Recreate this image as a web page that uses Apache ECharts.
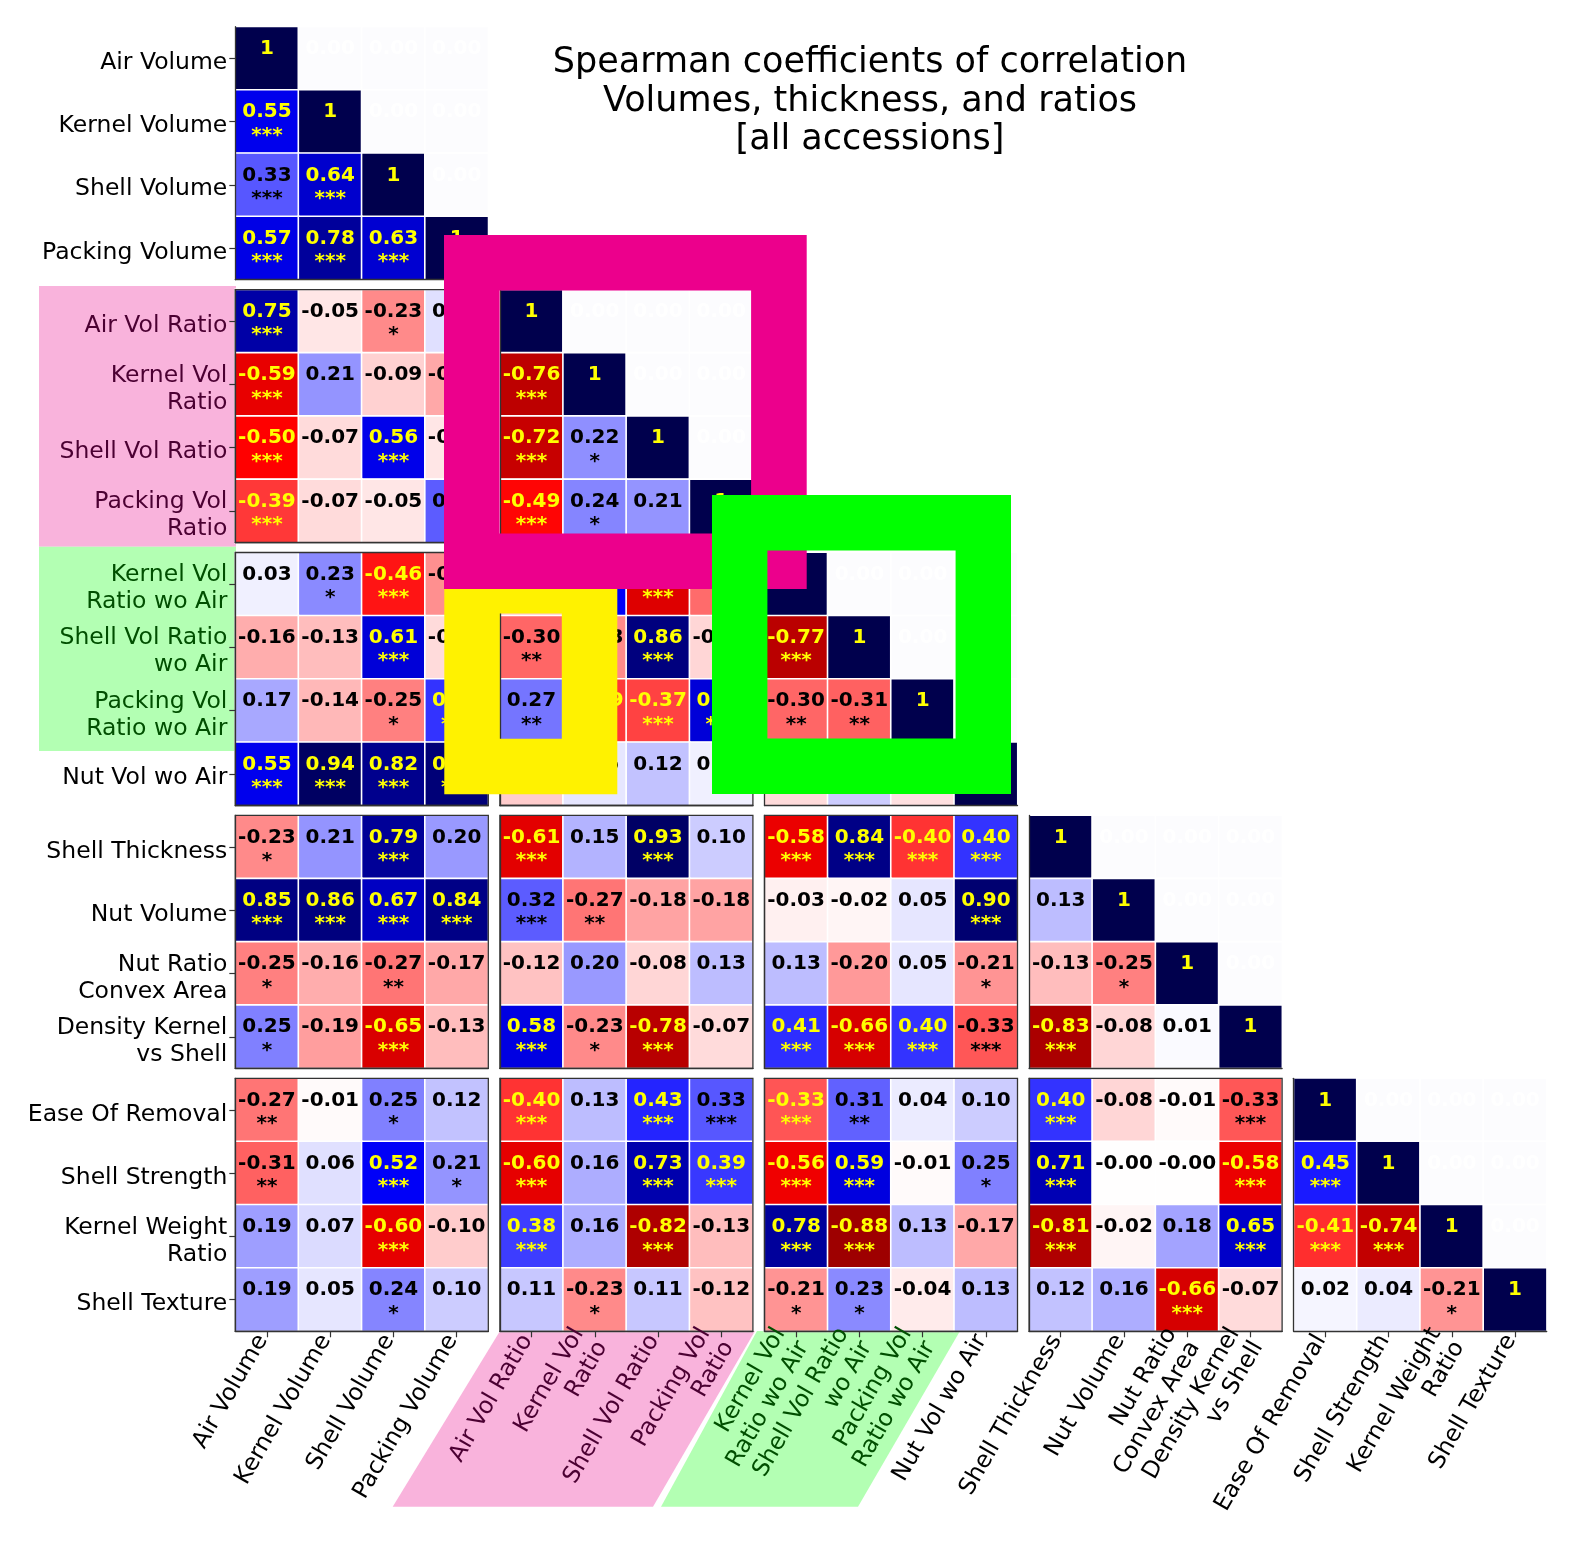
<!DOCTYPE html>
<html>
<head>
<meta charset="utf-8">
<script src="https://cdn.jsdelivr.net/npm/echarts/dist/echarts.min.js"></script>
<style>html,body{margin:0;padding:0;background:#fff}#chart{width:1574px;height:1546px}</style>
</head>
<body>
<div id="chart"></div>
<script>
// ---------------- DATA ----------------
const variables = ['Air Volume','Kernel Volume','Shell Volume','Packing Volume',
  'Air Vol Ratio','Kernel Vol Ratio','Shell Vol Ratio','Packing Vol Ratio',
  'Kernel Vol Ratio wo Air','Shell Vol Ratio wo Air','Packing Vol Ratio wo Air','Nut Vol wo Air',
  'Shell Thickness','Nut Volume','Nut Ratio Convex Area','Density Kernel vs Shell',
  'Ease Of Removal','Shell Strength','Kernel Weight Ratio','Shell Texture'];
const tickLabels = ['Air Volume','Kernel Volume','Shell Volume','Packing Volume',
  'Air Vol Ratio','Kernel Vol\nRatio','Shell Vol Ratio','Packing Vol\nRatio',
  'Kernel Vol\nRatio wo Air','Shell Vol Ratio\nwo Air','Packing Vol\nRatio wo Air','Nut Vol wo Air',
  'Shell Thickness','Nut Volume','Nut Ratio\nConvex Area','Density Kernel\nvs Shell',
  'Ease Of Removal','Shell Strength','Kernel Weight\nRatio','Shell Texture'];
// label tint group: k = plain, p = ratio group (pink), g = ratio wo air group (green)
const labelTint = ['k','k','k','k','p','p','p','p','g','g','g','k','k','k','k','k','k','k','k','k'];
const blockSize = 4;

// lower triangle of Spearman coefficients, row i holds columns 0..i-1
const corrRows = [
  [],
  [0.55],
  [0.33, 0.64],
  [0.57, 0.78, 0.63],
  [0.75, -0.05, -0.23, 0.06],
  [-0.59, 0.21, -0.09, -0.17, -0.76],
  [-0.50, -0.07, 0.56, -0.05, -0.72, 0.22],
  [-0.39, -0.07, -0.05, 0.32, -0.49, 0.24, 0.21],
  [0.03, 0.23, -0.46, -0.22, -0.10, 0.52, -0.63, -0.29],
  [-0.16, -0.13, 0.61, -0.07, -0.30, -0.23, 0.86, -0.08, -0.77],
  [0.17, -0.14, -0.25, 0.40, 0.27, -0.39, -0.37, 0.61, -0.30, -0.31],
  [0.55, 0.94, 0.82, 0.88, -0.10, 0.05, 0.12, 0.03, -0.07, 0.10, -0.06],
  [-0.23, 0.21, 0.79, 0.20, -0.61, 0.15, 0.93, 0.10, -0.58, 0.84, -0.40, 0.40],
  [0.85, 0.86, 0.67, 0.84, 0.32, -0.27, -0.18, -0.18, -0.03, -0.02, 0.05, 0.90, 0.13],
  [-0.25, -0.16, -0.27, -0.17, -0.12, 0.20, -0.08, 0.13, 0.13, -0.20, 0.05, -0.21, -0.13, -0.25],
  [0.25, -0.19, -0.65, -0.13, 0.58, -0.23, -0.78, -0.07, 0.41, -0.66, 0.40, -0.33, -0.83, -0.08, 0.01],
  [-0.27, -0.01, 0.25, 0.12, -0.40, 0.13, 0.43, 0.33, -0.334, 0.31, 0.04, 0.10, 0.40, -0.08, -0.01, -0.33],
  [-0.31, 0.06, 0.52, 0.21, -0.60, 0.16, 0.73, 0.39, -0.56, 0.59, -0.01, 0.25, 0.71, -0.001, -0.001, -0.58, 0.45],
  [0.19, 0.07, -0.60, -0.10, 0.38, 0.16, -0.82, -0.13, 0.78, -0.88, 0.13, -0.17, -0.81, -0.02, 0.18, 0.65, -0.41, -0.74],
  [0.19, 0.05, 0.24, 0.10, 0.11, -0.23, 0.11, -0.12, -0.21, 0.23, -0.04, 0.13, 0.12, 0.16, -0.66, -0.07, 0.02, 0.04, -0.21]
];
// significance stars (number of *)
const starRows = [
  [],
  [3],
  [3, 3],
  [3, 3, 3],
  [3, 0, 1, 0],
  [3, 0, 0, 0, 3],
  [3, 0, 3, 0, 3, 1],
  [3, 0, 0, 2, 3, 1, 0],
  [0, 1, 3, 1, 0, 3, 3, 1],
  [0, 0, 3, 0, 2, 1, 3, 0, 3],
  [0, 0, 1, 3, 2, 3, 3, 3, 2, 2],
  [3, 3, 3, 3, 0, 0, 0, 0, 0, 0, 0],
  [1, 0, 3, 0, 3, 0, 3, 0, 3, 3, 3, 3],
  [3, 3, 3, 3, 3, 2, 0, 0, 0, 0, 0, 3, 0],
  [1, 0, 2, 0, 0, 0, 0, 0, 0, 0, 0, 1, 0, 1],
  [1, 0, 3, 0, 3, 1, 3, 0, 3, 3, 3, 3, 3, 0, 0],
  [2, 0, 1, 0, 3, 0, 3, 3, 3, 2, 0, 0, 3, 0, 0, 3],
  [2, 0, 3, 1, 3, 0, 3, 3, 3, 3, 0, 1, 3, 0, 0, 3, 3],
  [0, 0, 3, 0, 3, 0, 3, 0, 3, 3, 0, 0, 3, 0, 0, 3, 3, 3],
  [0, 0, 1, 0, 0, 1, 0, 0, 1, 1, 0, 0, 0, 0, 3, 0, 0, 0, 1]
];
const titleLines = ['Spearman coefficients of correlation', 'Volumes, thickness, and ratios', '[all accessions]'];

// ---------------- STYLE / LAYOUT ----------------
const FONT = 'DejaVu Sans';
const X0 = 235.3, DX = 264.6, Y0 = 26.7, DY = 262.9, S = 253;
const SPINE = '#333333';
const tintColor = {k: '#000000', p: '#4b0032', g: '#004f00'};

function seismicR(v) {
  const stops = [[-1, [128, 0, 0]], [-0.5, [255, 0, 0]], [0, [255, 255, 255]], [0.5, [0, 0, 255]], [1, [0, 0, 76.5]]];
  v = Math.max(-1, Math.min(1, v));
  for (let i = 0; i < stops.length - 1; i++) {
    const [a, ca] = stops[i], [b, cb] = stops[i + 1];
    if (v >= a && v <= b) {
      const t = (v - a) / (b - a);
      const c = ca.map((x, k) => Math.round(x + (cb[k] - x) * t));
      return 'rgb(' + c.join(',') + ')';
    }
  }
  return '#fff';
}

const CF = 20;
const cellRich = {};
[['y', '#ffff00'], ['k', '#000000'], ['w', '#ffffff']].forEach(([t, col]) => {
  cellRich['v' + t] = {color: col, fontSize: CF, fontWeight: 'bold', fontFamily: FONT, lineHeight: 23.4};
  cellRich['s' + t] = {color: col, fontSize: CF, fontWeight: 'bold', fontFamily: FONT, lineHeight: 23.4};
});

const axisRich = {};
['k', 'p', 'g'].forEach(t => {
  axisRich[t + 's'] = {color: tintColor[t], fontSize: 23.5, fontFamily: FONT, lineHeight: 27, padding: [0, 9, 0, 0]};
  axisRich[t + 'y'] = {color: tintColor[t], fontSize: 23.5, fontFamily: FONT, lineHeight: 27};
});

function xLabelFmt(value) {
  const t = labelTint[tickLabels.indexOf(value)];
  return value.split('\n').map(l => '{' + t + 's|' + l + '}').join('\n');
}
function yLabelFmt(value) {
  const t = labelTint[tickLabels.indexOf(value)];
  return value.split('\n').map(l => '{' + t + 'y|' + l + '}').join('\n');
}

const grids = [], xAxes = [], yAxes = [], series = [];
const nBlocks = variables.length / blockSize;
for (let bi = 0; bi < nBlocks; bi++) {
  for (let bj = 0; bj <= bi; bj++) {
    const k = grids.length;
    const diag = bi === bj;
    grids.push({
      left: X0 + bj * DX, top: Y0 + bi * DY, width: S, height: S,
      containLabel: false, outerBoundsMode: 'none',
      show: !diag, z: 6, backgroundColor: 'rgba(0,0,0,0)', borderColor: SPINE, borderWidth: 1.3
    });
    const xCats = tickLabels.slice(bj * blockSize, bj * blockSize + blockSize);
    const yCats = tickLabels.slice(bi * blockSize, bi * blockSize + blockSize);
    xAxes.push({
      type: 'category', gridIndex: k, data: xCats, position: 'bottom', z: 6,
      axisLine: {show: true, lineStyle: {color: SPINE, width: 1.3}},
      axisTick: {show: bi === nBlocks - 1, alignWithLabel: true, length: 6, lineStyle: {color: SPINE, width: 1.2}},
      axisLabel: {show: bi === nBlocks - 1, interval: 0, rotate: 60, margin: -2.6, hideOverlap: false,
        formatter: xLabelFmt, rich: axisRich},
      splitLine: {show: false}, splitArea: {show: false}
    });
    yAxes.push({
      type: 'category', gridIndex: k, data: yCats, inverse: true, z: 6,
      axisLine: {show: true, lineStyle: {color: SPINE, width: 1.3}},
      axisTick: {show: bj === 0, alignWithLabel: true, length: 6, lineStyle: {color: SPINE, width: 1.2}},
      axisLabel: {show: bj === 0, interval: 0, margin: 8, hideOverlap: false, padding: [9, 0, 0, 0],
        formatter: yLabelFmt, rich: axisRich},
      splitLine: {show: false}, splitArea: {show: false}
    });
    const data = [];
    for (let r = 0; r < blockSize; r++) {
      for (let c = 0; c < blockSize; c++) {
        const gi = bi * blockSize + r, gj = bj * blockSize + c;
        let v, color, lab;
        if (gi === gj) {
          v = 1; color = seismicR(1); lab = '{vy|1}\n{sy| }';
        } else if (gi < gj) {
          v = 0; color = '#fcfcfe'; lab = '{vw|0.00}\n{sw| }';
        } else {
          v = corrRows[gi][gj];
          color = seismicR(v);
          const t = Math.abs(v) >= 1 / 3 ? 'y' : 'k';
          const st = '*'.repeat(starRows[gi][gj]) || ' ';
          lab = '{v' + t + '|' + v.toFixed(2) + '}\n{s' + t + '|' + st + '}';
        }
        data.push({value: [c, r, v], itemStyle: {color: color}, lab: lab});
      }
    }
    series.push({
      type: 'heatmap', xAxisIndex: k, yAxisIndex: k, data: data,
      itemStyle: {borderColor: '#ffffff', borderWidth: 1.6},
      label: {show: true, formatter: p => p.data.lab, rich: cellRich, offset: [0, 2.2],
        textBorderWidth: 0, fontFamily: FONT},
      emphasis: {disabled: true}, silent: true
    });
  }
}

function frame(x1, y1, x2, y2, t, color, z) {
  return {type: 'rect', z: z, silent: true,
    shape: {x: x1 + t / 2, y: y1 + t / 2, width: x2 - x1 - t, height: y2 - y1 - t},
    style: {fill: null, stroke: color, lineWidth: t, lineJoin: 'miter'}};
}

const graphics = [
  {type: 'rect', z: -10, silent: true, shape: {x: 39, y: 286, width: 197, height: 260.7}, style: {fill: '#f9b3dc'}},
  {type: 'rect', z: -10, silent: true, shape: {x: 39, y: 546.7, width: 197, height: 204.3}, style: {fill: '#b3ffb3'}},
  {type: 'polygon', z: -10, silent: true, shape: {points: [[500, 1331], [755, 1331], [653, 1506.7], [392.7, 1506.7]]}, style: {fill: '#f9b3dc'}},
  {type: 'polygon', z: -10, silent: true, shape: {points: [[757, 1331], [960, 1331], [858, 1506.7], [661, 1506.7]]}, style: {fill: '#b3ffb3'}},
  frame(444.3, 558, 617.3, 794.3, 55.5, '#fff200', 100),
  frame(444, 235, 806.7, 589, 55.6, '#ec008c', 101),
  frame(712, 495, 1011, 794, 55.4, '#00ff00', 102),
  {type: 'text', z: 50, x: 870, y: 44,
    style: {text: titleLines.join('\n'), fontSize: 35, fontFamily: FONT,
      lineHeight: 38.5, align: 'center', verticalAlign: 'top', fill: '#000000'}}
];

const chart = echarts.init(document.getElementById('chart'), null, {renderer: 'canvas', width: 1574, height: 1546});
chart.setOption({
  animation: false,
  backgroundColor: '#ffffff',
  grid: grids, xAxis: xAxes, yAxis: yAxes, series: series,
  graphic: graphics
});
</script>
</body>
</html>
